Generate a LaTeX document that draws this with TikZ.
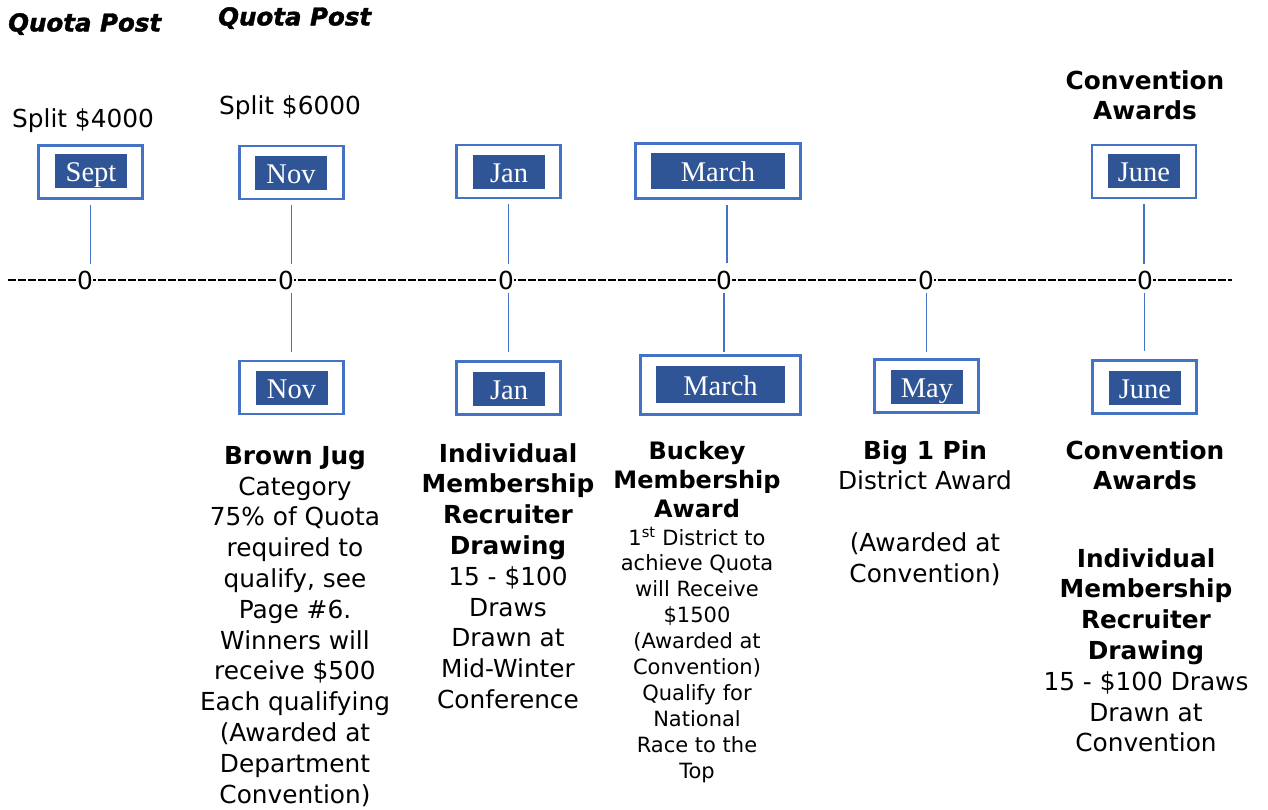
\documentclass[tikz,border=0pt]{standalone}
\usepackage{fontspec}
\setmainfont{DejaVu Sans}
\newfontfamily\monthfont{Liberation Serif}
\newfontfamily\quotafont{DejaVu Sans}[BoldItalicFeatures={FakeBold=1.6}]
\usetikzlibrary{positioning, calc}
\definecolor{boxblue}{HTML}{4472C4}
\definecolor{fillblue}{HTML}{2F5597}

\begin{document}
\begin{tikzpicture}[%
    x=1pt, y=-1pt,
    every node/.style={%
      font=\fontsize{24.8}{30.8}\selectfont,
      text=black,
      align=center,
      inner sep=0pt
    },
    head/.style={font=\fontsize{24.8}{30.8}\selectfont\bfseries},
    small/.style={font=\fontsize{21}{25.9}\selectfont},
    qpost/.style={font=\quotafont\fontsize{24.5}{28}\selectfont\bfseries\itshape},
    frame/.style={draw=boxblue, line width=2.6pt, fill=white,
      minimum width=104pt, minimum height=53pt},
    month/.style={fill=fillblue, text=white,
      font=\monthfont\fontsize{28.5}{30}\selectfont,
      text height=25pt, text depth=4pt,
      minimum width=72pt, minimum height=34pt},
    stem/.style={draw=boxblue, line width=1.3pt},
    tick/.style={fill=white, inner xsep=0.5pt}
  ]
  \useasboundingbox (0,0) rectangle (1268,810);

  % Time line
  \draw[line width=2.2pt, dash pattern=on 7.5pt off 2.5pt] (8,280) -- (1232,280);
  \node[tick] (z1) at (85,280) {0};
  \node[tick] (z2) at (286,280) {0};
  \node[tick] (z3) at (506,280) {0};
  \node[tick] (z4) at (724,280) {0};
  \node[tick] (z5) at (926,280) {0};
  \node[tick] (z6) at (1145,280) {0};

  % Months above
  \node[frame] (tSept) at (90.5,172) {};
  \node[month] (tSeptLbl) at (91,171.5) {Sept};
  \node[frame] (tNov) at (291.5,172.5) {};
  \node[month] (tNovLbl) at (291,173) {Nov};
  \node[frame] (tJan) at (508.5,171.5) {};
  \node[month] (tJanLbl) at (509,172) {Jan};
  \node[frame, minimum width=165pt, minimum height=55pt] (tMarch) at (718,171) {};
  \node[month, minimum width=134pt, minimum height=36pt] (tMarchLbl) at (718,171) {March};
  \node[frame] (tJune) at (1144,171.5) {};
  \node[month] (tJuneLbl) at (1144,171) {June};

  % Months below
  \node[frame] (bNov) at (291.5,387.5) {};
  \node[month] (bNovLbl) at (291.5,388) {Nov};
  \node[frame] (bJan) at (508.5,388) {};
  \node[month] (bJanLbl) at (509,389) {Jan};
  \node[frame, minimum width=160pt, minimum height=59pt] (bMarch) at (720.5,385) {};
  \node[month, minimum width=129pt, minimum height=37pt] (bMarchLbl) at (720.5,384.5) {March};
  \node[frame] (bMay) at (926.5,386) {};
  \node[month] (bMayLbl) at (927,386.5) {May};
  \node[frame] (bJune) at (1144.5,387) {};
  \node[month] (bJuneLbl) at (1145,388) {June};

  % Stems
  \draw[stem] ($(tSept.south)+(0,5)$) -- ($(tSept.south |- z1.north)+(0,-6)$);
  \draw[stem] ($(tNov.south)+(0,5)$) -- ($(tNov.south |- z2.north)+(0,-6)$);
  \draw[stem] ($(tJan.south)+(0,5)$) -- ($(tJan.south |- z3.north)+(0,-6)$);
  \draw[stem] ($(tMarch.south -| z4)+(3,5)$) -- ($(z4.north)+(3,-7)$);
  \draw[stem] ($(tJune.south)+(0,5)$) -- ($(tJune.south |- z6.north)+(0,-6)$);
  \draw[stem] ($(bNov.north |- z2.south)+(0,3)$) -- ($(bNov.north)+(0,-8)$);
  \draw[stem] ($(bJan.north |- z3.south)+(0,3)$) -- ($(bJan.north)+(0,-8)$);
  \draw[stem] ($(z4.south)+(0,3)$) -- ($(z4 |- bMarch.north)+(0,-2)$);
  \draw[stem] ($(bMay.north |- z5.south)+(0,3)$) -- ($(bMay.north)+(0,-6)$);
  \draw[stem] ($(bJune.north |- z6.south)+(0,3)$) -- ($(bJune.north)+(0,-8)$);

  % Texts above
  \node[qpost, anchor=north west] (quota1) at (8,13) {Quota Post};
  \node[qpost, anchor=north west] (quota2) at (218,7) {Quota Post};
  \node[anchor=north] (split1) at (83,108) {Split \$4000};
  \node[anchor=north] (split2) at (290,95) {Split \$6000};
  \node[head, anchor=north] (conv1) at (1145,70) {Convention\\Awards};

  % Texts below
  \node[anchor=north] (jug) at (295,446)
    {{\bfseries Brown Jug}\\Category\\75\% of Quota\\required to\\qualify, see\\
     Page \#6.\\Winners will\\receive \$500\\Each qualifying\\(Awarded at\\
     Department\\Convention)};
  \node[anchor=north] (recr1) at (508,443)
    {{\bfseries Individual}\\{\bfseries Membership}\\{\bfseries Recruiter}\\
     {\bfseries Drawing}\\15 - \$100\\Draws\\Drawn at\\Mid-Winter\\Conference};
  \node[head, anchor=north, font=\fontsize{24}{29.2}\selectfont\bfseries] (buck)
    at (697,441) {Buckey\\Membership\\Award};
  \node[small, anchor=north] (buckTxt) at (697,527)
    {1\textsuperscript{st} District to\\achieve Quota\\will Receive\\\$1500\\
     (Awarded at\\Convention)\\Qualify for\\National\\Race to the\\Top};
  \node[anchor=north] (pin) at (925,440)
    {{\bfseries Big 1 Pin}\\District Award\\[30.8pt](Awarded at\\Convention)};
  \node[head, anchor=north] (conv2) at (1145,440) {Convention\\Awards};
  \node[anchor=north] (recr2) at (1146,548)
    {{\bfseries Individual}\\{\bfseries Membership}\\{\bfseries Recruiter}\\
     {\bfseries Drawing}\\15 - \$100 Draws\\Drawn at\\Convention};

\end{tikzpicture}
\end{document}
